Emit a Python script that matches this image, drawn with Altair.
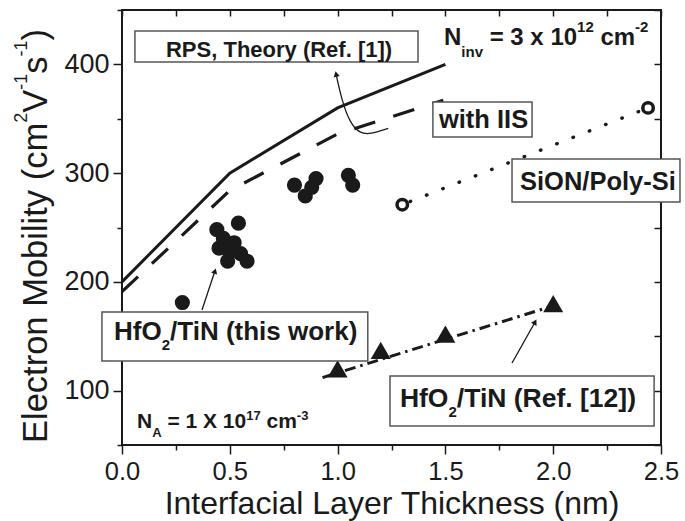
import altair as alt
import pandas as pd

FONT = "Liberation Sans"
INK = "#1a1a1a"
W, H = 539, 435
X_DOM = [0.0, 2.5]
Y_DOM = [50, 450]
PXX = W / (X_DOM[1] - X_DOM[0])
PXY = H / (Y_DOM[1] - Y_DOM[0])

# ---------------- data ----------------
rps_x = [0.0, 0.5, 1.0, 1.5]
rps_y = [200, 300, 360, 400]

iis_x = [0.0, 0.5, 1.0, 1.49]
iis_y = [191, 284, 336, 367]

this_x = [0.28, 0.44, 0.54, 0.45, 0.52, 0.55, 0.49, 0.58, 0.47, 0.50,
          0.80, 0.85, 0.88, 0.90, 1.05, 1.07]
this_y = [181, 248, 254, 231, 236, 226, 219, 219, 240, 228,
          289, 279, 287, 295, 298, 289]

sion_x = [1.30, 2.44]
sion_y = [271, 360]

ref12_x = [1.0, 1.2, 1.5, 2.0]
ref12_y = [120, 137, 152, 180]
ref12_fit_x = [0.93, 2.0]
ref12_fit_y = [112, 178]

x_ticks = [0.0, 0.25, 0.5, 0.75, 1.0, 1.25, 1.5, 1.75, 2.0, 2.25, 2.5]
y_ticks = [50, 100, 150, 200, 250, 300, 350, 400, 450]

# annotation boxes (data coordinates)
box_x1 = [0.060, 1.442, 1.809, -0.093, 1.243]
box_x2 = [1.373, 1.902, 2.588, 1.140, 2.468]
box_y1 = [402.2, 333.2, 273.4, 127.3, 67.5]
box_y2 = [430.7, 365.4, 313.0, 172.3, 113.4]

# annotation texts: anchor (left, baseline), sizes, sub/sup shifts (px)
ann_x = [0.204, 1.4935, 0.0696, 1.470, 1.846, -0.037, 1.289]
ann_y = [406.8, 417.8, 65.6, 341.5, 284.5, 146.5, 84.9]
ann_size = [22, 24, 21, 25.5, 25.5, 26, 26.5]
ann_small = [0, 15, 13, 0, 0, 15, 15]
ann_sub = [0, 12, 9, 0, 0, 10, 10]
ann_sup = [0, 13, 8, 0, 0, 0, 0]
ann_parts = [
    [("RPS, Theory (Ref. [1])", "m")],
    [("N", "m"), ("inv", "b"), (" = 3 x 10", "m"), ("12", "p"), (" cm", "m"), ("-2", "p")],
    [("N", "m"), ("A", "b"), (" = 1 X 10", "m"), ("17", "p"), (" cm", "m"), ("-3", "p")],
    [("with IIS", "m")],
    [("SiON/Poly-Si", "m")],
    [("HfO", "m"), ("2", "b"), ("/TiN (this work)", "m")],
    [("HfO", "m"), ("2", "b"), ("/TiN (Ref. [12])", "m")],
]

# arrows
arrow_id = [0, 0, 1, 1, 2, 2, 2, 2, 2, 2]
arrow_x = [0.371, 0.431, 1.809, 1.916, 1.235, 1.150, 1.104, 1.058, 1.019, 0.993]
arrow_y = [174.1, 210.0, 125.4, 163.1, 341.2, 335.7, 336.6, 345.8, 367.2, 391.1]
head_x = [0.431, 1.916, 0.993]
head_y = [210.0, 163.1, 391.1]
head_angle = [18, 29, 348]

# y-axis title pieces
yt_parts = [("Electron Mobility (cm", "m"), ("2", "p"), ("V", "m"), ("-1", "p"),
            ("s", "m"), ("-1", "p"), (")", "m")]
YT_SIZE, YT_SMALL = 34.5, 18
YT_BASE_X, YT_SUP_X, YT_START_Y = -75, -95, 433

# ---------------- font metrics (Arial / Liberation Sans) ----------------
BOLD_W = {" ": 278, "(": 333, ")": 333, ",": 278, "-": 333, ".": 278, "/": 278,
          "=": 584, "A": 722, "H": 722, "I": 278, "N": 722, "O": 778, "P": 667,
          "R": 722, "S": 667, "T": 611, "X": 667, "[": 333, "]": 333,
          "a": 556, "c": 556, "e": 556, "f": 333, "h": 611, "i": 278, "k": 556,
          "l": 278, "m": 889, "n": 611, "o": 611, "r": 389, "s": 556, "t": 333,
          "v": 556, "w": 778, "x": 556, "y": 556}
REG_W = {" ": 278, "(": 333, ")": 333, "-": 333, "E": 667, "M": 833, "V": 667,
         "b": 556, "c": 500, "e": 556, "i": 222, "l": 222, "m": 833, "n": 556,
         "o": 556, "r": 333, "s": 500, "t": 278, "y": 500}
for d in "0123456789":
    BOLD_W[d] = 556
    REG_W[d] = 556


def tw(s, size, table):
    return sum(table.get(ch, 556) for ch in s) / 1000.0 * size


# build annotation segments (leading spaces become offsets: SVG drops them)
seg_rows = []
for i, parts in enumerate(ann_parts):
    off = 0.0
    for text, kind in parts:
        if kind == "m":
            size, shift = ann_size[i], 0
        elif kind == "b":
            size, shift = ann_small[i], -ann_sub[i]
        else:
            size, shift = ann_small[i], ann_sup[i]
        stripped = text.lstrip(" ")
        off += tw(text[:len(text) - len(stripped)], size, BOLD_W)
        seg_rows.append({"x": ann_x[i] + off / PXX, "y": ann_y[i] + shift / PXY,
                         "t": stripped, "s": size})
        off += tw(stripped, size, BOLD_W)
df_seg = pd.DataFrame(seg_rows)

yt_rows = []
off = 0.0
for text, kind in yt_parts:
    size = YT_SIZE if kind == "m" else YT_SMALL
    px = YT_BASE_X if kind == "m" else YT_SUP_X
    yt_rows.append({"px": px, "py": YT_START_Y - off, "t": text, "s": size})
    off += tw(text, size, REG_W)
df_yt = pd.DataFrame(yt_rows)

XS = alt.Scale(domain=X_DOM, nice=False, zero=False)
YS = alt.Scale(domain=Y_DOM, nice=False, zero=False)

x_major = "datum.value % 0.5 == 0"
y_major = "datum.value % 100 == 0"

ax_bottom = alt.Axis(
    orient="bottom", values=x_ticks,
    labelExpr=f"{x_major} ? format(datum.value, '.1f') : ''",
    tickSize={"condition": {"test": x_major, "value": 9}, "value": 5},
    tickWidth=1.5, tickColor=INK, domain=False, grid=False,
    labelFont=FONT, labelFontSize=25.5, labelColor=INK, labelPadding=5,
    labelFlush=False, labelOverlap=False,
    title="Interfacial Layer Thickness (nm)", titleFont=FONT, titleFontSize=32,
    titleFontWeight="normal", titleColor=INK, titleY=68, titleBaseline="alphabetic")
ax_left = alt.Axis(
    orient="left", values=y_ticks,
    labelExpr=f"{y_major} ? format(datum.value, 'd') : ''",
    tickSize={"condition": {"test": y_major, "value": 9}, "value": 5},
    tickWidth=1.5, tickColor=INK, domain=False, grid=False,
    labelFont=FONT, labelFontSize=27, labelColor=INK, labelPadding=4,
    labelOverlap=False, labelFlush=False, title=None)
ax_top = alt.Axis(orient="top", values=x_ticks, labels=False, tickSize=6, offset=-6,
                  tickWidth=1.5, tickColor=INK, domain=False, grid=False, title=None)
ax_right = alt.Axis(orient="right", values=y_ticks, labels=False, tickSize=7, offset=-7,
                    tickWidth=1.5, tickColor=INK, domain=False, grid=False, title=None)


def X(f="x", axis=None):
    return alt.X(f"{f}:Q", scale=XS, axis=axis)


def Y(f="y", axis=None):
    return alt.Y(f"{f}:Q", scale=YS, axis=axis)


solid = alt.Chart(pd.DataFrame({"x": rps_x, "y": rps_y})).mark_line(
    color=INK, strokeWidth=3).encode(x=X(axis=ax_bottom), y=Y(axis=ax_left))

dashed = alt.Chart(pd.DataFrame({"x": iis_x, "y": iis_y})).mark_line(
    color=INK, strokeWidth=3.2, strokeDash=[22, 19]).encode(x=X(axis=ax_top), y=Y(axis=ax_right))

dotted = alt.Chart(pd.DataFrame({"x": sion_x, "y": sion_y})).mark_line(
    color=INK, strokeWidth=3.4, strokeDash=[0.5, 17], strokeDashOffset=9,
    strokeCap="round").encode(x=X(), y=Y())

dashdot = alt.Chart(pd.DataFrame({"x": ref12_fit_x, "y": ref12_fit_y})).mark_line(
    color=INK, strokeWidth=3, strokeDash=[11, 5, 2.5, 5]).encode(x=X(), y=Y())

circles = alt.Chart(pd.DataFrame({"x": this_x, "y": this_y})).mark_circle(
    color=INK, size=230, opacity=1).encode(x=X(), y=Y())

open_c = alt.Chart(pd.DataFrame({"x": sion_x, "y": sion_y})).mark_point(
    shape="circle", filled=False, color=INK, size=110, strokeWidth=3.5, opacity=1).encode(x=X(), y=Y())

tri = alt.Chart(pd.DataFrame({"x": ref12_x, "y": ref12_y})).mark_point(
    shape="triangle-up", filled=True, color=INK, size=400, opacity=1).encode(x=X(), y=Y())

df_arrow = pd.DataFrame({"id": arrow_id, "x": arrow_x, "y": arrow_y,
                         "i": list(range(len(arrow_x)))})
arrows = alt.Chart(df_arrow).mark_line(color=INK, strokeWidth=1.3, interpolate="basis").encode(
    x=X(), y=Y(), detail="id:N", order="i:Q")

heads = alt.Chart(pd.DataFrame({"x": head_x, "y": head_y, "a": head_angle})).mark_point(
    shape="triangle-up", filled=True, color=INK, size=40, opacity=1).encode(
    x=X(), y=Y(), angle=alt.Angle("a:Q", scale=None))

boxes = alt.Chart(pd.DataFrame({"x1": box_x1, "x2": box_x2, "y1": box_y1, "y2": box_y2})).mark_rect(
    fill="white", stroke="#555", strokeWidth=1.5).encode(
    x=X("x1"), x2="x2:Q", y=Y("y1"), y2="y2:Q")

texts = alt.Chart(df_seg).mark_text(
    align="left", baseline="alphabetic", font=FONT, fontWeight="bold", color=INK).encode(
    x=X(), y=Y(), text="t:N", size=alt.Size("s:Q", scale=None))

ytitle = alt.Chart(df_yt).mark_text(
    align="left", baseline="alphabetic", font=FONT, color=INK, angle=270).encode(
    x=alt.X("px:Q", scale=None, axis=None), y=alt.Y("py:Q", scale=None, axis=None),
    text="t:N", size=alt.Size("s:Q", scale=None))

chart = alt.layer(
    solid, dashed, dotted, dashdot, circles, open_c, tri, arrows, heads, boxes, texts, ytitle
).resolve_axis(x="independent", y="independent").properties(
    width=W, height=H,
    autosize=alt.AutoSizeParams(type="none"),
    padding={"left": 122, "top": 10, "right": 24, "bottom": 76},
    background="white",
).configure_view(stroke=INK, strokeWidth=2)

chart.save("out.html", embed_options={"renderer": "svg", "actions": False})
